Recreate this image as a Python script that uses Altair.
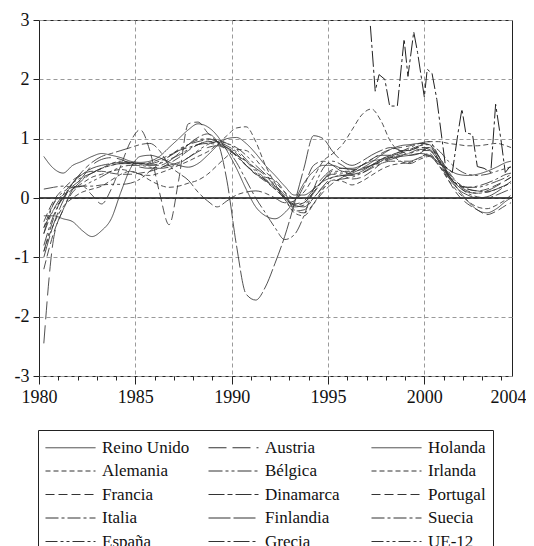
import altair as alt
import pandas as pd

years = [1980.25, 1980.75, 1981.25, 1981.75, 1982.25, 1982.75, 1983.25, 1983.75, 1984.25, 1984.75,
         1985.25, 1985.75, 1986.25, 1986.75, 1987.25, 1987.75, 1988.25, 1988.75, 1989.25, 1989.75,
         1990.25, 1990.75, 1991.25, 1991.75, 1992.25, 1992.75, 1993.25, 1993.75, 1994.25, 1994.75,
         1995.25, 1995.75, 1996.25, 1996.75, 1997.25, 1997.75, 1998.25, 1998.75, 1999.25, 1999.75,
         2000.25, 2000.75, 2001.25, 2001.75, 2002.25, 2002.75, 2003.25, 2003.75, 2004.25, 2004.5]

reino_unido = [0.70, 0.50, 0.42, 0.55, 0.62, 0.70, 0.75, 0.72, 0.68, 0.62,
               0.60, 0.62, 0.70, 0.85, 1.00, 1.15, 1.25, 1.20, 1.05, 0.80,
               0.50, 0.15, -0.15, -0.30, -0.35, -0.25, -0.05, 0.25, 0.45, 0.55,
               0.55, 0.50, 0.50, 0.55, 0.62, 0.65, 0.68, 0.70, 0.72, 0.75,
               0.72, 0.60, 0.48, 0.40, 0.38, 0.40, 0.45, 0.52, 0.60, 0.62]
alemania = [-0.50, -0.10, 0.05, 0.15, 0.25, 0.35, 0.40, 0.45, 0.48, 0.45,
            0.40, 0.38, 0.42, 0.48, 0.55, 0.62, 0.70, 0.78, 0.90, 1.05,
            1.18, 1.20, 0.95, 0.55, 0.25, 0.00, -0.25, -0.30, -0.10, 0.15,
            0.30, 0.28, 0.22, 0.28, 0.38, 0.48, 0.55, 0.58, 0.60, 0.68,
            0.75, 0.55, 0.30, 0.10, -0.05, -0.15, -0.18, -0.12, -0.02, 0.05]
francia = [-0.40, -0.05, 0.15, 0.30, 0.40, 0.45, 0.45, 0.42, 0.40, 0.40,
           0.42, 0.45, 0.50, 0.58, 0.68, 0.80, 0.90, 0.95, 0.92, 0.85,
           0.72, 0.55, 0.40, 0.28, 0.15, 0.00, -0.12, -0.08, 0.10, 0.30,
           0.40, 0.38, 0.32, 0.35, 0.45, 0.58, 0.68, 0.75, 0.80, 0.85,
           0.85, 0.70, 0.45, 0.25, 0.15, 0.12, 0.15, 0.22, 0.30, 0.35]
italia = [-0.90, -0.35, 0.05, 0.25, 0.35, 0.42, 0.50, 0.58, 0.62, 0.60,
          0.58, 0.58, 0.62, 0.70, 0.80, 0.90, 0.98, 1.00, 0.95, 0.85,
          0.70, 0.55, 0.42, 0.30, 0.18, 0.02, -0.15, -0.12, 0.08, 0.30,
          0.45, 0.45, 0.40, 0.42, 0.50, 0.58, 0.62, 0.62, 0.62, 0.68,
          0.72, 0.58, 0.38, 0.20, 0.08, 0.02, 0.00, 0.05, 0.12, 0.15]
espana = [-0.60, -0.10, 0.10, 0.18, 0.20, 0.20, 0.22, 0.23, 0.23, 0.25,
          0.32, 0.45, 0.58, 0.70, 0.82, 0.90, 0.95, 0.98, 0.98, 0.92,
          0.82, 0.65, 0.48, 0.32, 0.18, -0.02, -0.22, -0.20, 0.00, 0.18,
          0.30, 0.32, 0.35, 0.42, 0.52, 0.62, 0.70, 0.76, 0.82, 0.88,
          0.90, 0.80, 0.62, 0.48, 0.40, 0.38, 0.40, 0.45, 0.50, 0.52]
austria = [-2.45, -0.70, -0.20, 0.15, 0.35, 0.55, 0.65, 0.68, 0.65, 0.58,
           0.52, 0.50, 0.52, 0.55, 0.60, 0.68, 0.78, 0.85, 0.88, 0.82,
           0.72, 0.62, 0.50, 0.38, 0.20, 0.02, -0.10, -0.05, 0.15, 0.35,
           0.48, 0.50, 0.48, 0.50, 0.55, 0.60, 0.65, 0.70, 0.76, 0.82,
           0.80, 0.62, 0.38, 0.20, 0.10, 0.08, 0.12, 0.20, 0.30, 0.35]
belgica = [0.15, 0.18, 0.20, 0.18, 0.20, 0.28, 0.36, 0.45, 0.52, 0.55,
           0.55, 0.52, 0.50, 0.52, 0.58, 0.68, 0.80, 0.90, 0.95, 0.92,
           0.85, 0.72, 0.55, 0.40, 0.22, 0.05, -0.12, -0.15, 0.00, 0.20,
           0.35, 0.38, 0.38, 0.45, 0.55, 0.65, 0.72, 0.78, 0.82, 0.85,
           0.82, 0.65, 0.42, 0.25, 0.18, 0.18, 0.22, 0.28, 0.35, 0.40]
dinamarca = [-0.50, -0.20, 0.00, 0.25, 0.45, 0.60, 0.70, 0.75, 0.80, 0.85,
             0.90, 0.92, 0.80, 0.55, 0.42, 0.30, 0.10, -0.05, -0.15, -0.05,
             0.05, 0.10, 0.12, 0.08, 0.00, -0.08, -0.05, 0.20, 0.55, 0.62,
             0.55, 0.45, 0.45, 0.55, 0.65, 0.72, 0.72, 0.62, 0.58, 0.65,
             0.70, 0.55, 0.35, 0.22, 0.15, 0.12, 0.10, 0.15, 0.22, 0.25]
finlandia = [-1.00, -0.45, -0.05, 0.25, 0.40, 0.50, 0.55, 0.58, 0.60, 0.60,
             0.58, 0.56, 0.55, 0.62, 0.75, 0.90, 1.02, 1.08, 0.95, 0.30,
             -0.80, -1.62, -1.72, -1.50, -1.10, -0.65, -0.10, 0.50, 1.05, 1.00,
             0.78, 0.62, 0.55, 0.62, 0.72, 0.80, 0.85, 0.80, 0.72, 0.75,
             0.85, 0.65, 0.35, 0.15, 0.05, 0.00, 0.02, 0.10, 0.22, 0.28]
holanda = [-0.30, -0.30, -0.35, -0.40, -0.55, -0.65, -0.55, -0.35, 0.10, 0.50,
           0.70, 0.72, 0.68, 0.60, 0.55, 0.52, 0.58, 0.72, 0.88, 1.00,
           1.02, 0.92, 0.75, 0.55, 0.38, 0.20, 0.05, 0.05, 0.15, 0.28,
           0.35, 0.38, 0.42, 0.50, 0.60, 0.72, 0.82, 0.88, 0.90, 0.92,
           0.90, 0.70, 0.40, 0.15, -0.05, -0.20, -0.25, -0.18, -0.05, 0.00]
irlanda = [-0.90, -0.45, -0.15, 0.00, 0.10, 0.15, 0.20, 0.30, 0.40, 0.45,
           0.40, 0.30, 0.22, 0.18, 0.20, 0.25, 0.30, 0.40, 0.55, 0.70,
           0.82, 0.80, 0.65, 0.45, 0.28, 0.10, 0.00, 0.10, 0.35, 0.62,
           0.75, 0.90, 1.15, 1.40, 1.50, 1.30, 0.95, 0.80, 0.80, 0.88,
           0.95, 0.95, 0.92, 0.90, 0.88, 0.88, 0.90, 0.92, 0.88, 0.85]
portugal = [-1.20, -0.60, -0.20, 0.10, 0.20, 0.05, -0.10, 0.15, 0.55, 0.95,
            1.15, 0.80, 0.10, -0.45, 0.30, 1.25, 1.28, 1.10, 0.95, 0.85,
            0.75, 0.55, 0.40, 0.35, 0.30, 0.10, -0.20, -0.25, -0.10, 0.10,
            0.25, 0.35, 0.45, 0.55, 0.65, 0.75, 0.82, 0.85, 0.88, 0.92,
            0.90, 0.62, 0.30, 0.05, -0.10, -0.20, -0.28, -0.22, -0.12, -0.08]
suecia = [-0.80, -0.30, 0.00, 0.15, 0.30, 0.42, 0.50, 0.55, 0.58, 0.58,
          0.58, 0.60, 0.65, 0.72, 0.80, 0.85, 0.90, 0.92, 0.90, 0.82,
          0.60, 0.30, 0.00, -0.25, -0.50, -0.70, -0.62, -0.30, 0.15, 0.50,
          0.62, 0.55, 0.45, 0.48, 0.55, 0.65, 0.72, 0.78, 0.85, 0.92,
          0.95, 0.70, 0.38, 0.22, 0.18, 0.20, 0.25, 0.32, 0.40, 0.42]
ue12 = [-0.60, -0.20, 0.05, 0.20, 0.32, 0.42, 0.50, 0.55, 0.58, 0.58,
        0.56, 0.55, 0.58, 0.65, 0.72, 0.82, 0.90, 0.95, 0.95, 0.88,
        0.78, 0.62, 0.45, 0.30, 0.15, 0.00, -0.12, -0.08, 0.10, 0.30,
        0.42, 0.42, 0.40, 0.45, 0.55, 0.62, 0.68, 0.72, 0.75, 0.80,
        0.80, 0.62, 0.40, 0.22, 0.12, 0.08, 0.10, 0.15, 0.22, 0.25]

grecia_years = [1997.2, 1997.45, 1997.65, 1997.95, 1998.2, 1998.6, 1998.95, 1999.15, 1999.45, 1999.65,
                2000.0, 2000.15, 2000.4, 2000.65, 2001.1, 2001.45, 2001.75, 2001.95, 2002.15, 2002.5,
                2002.75, 2003.1, 2003.45, 2003.7, 2004.0, 2004.2, 2004.5]
grecia = [2.9, 1.8, 2.08, 2.0, 1.55, 1.55, 2.68, 2.05, 2.8, 2.45,
          1.7, 2.17, 2.1, 1.66, 0.53, 0.43, 1.1, 1.5, 1.1, 1.07,
          0.53, 0.5, 0.43, 1.58, 0.93, 0.43, 0.55]

# legend order (filled column by column, 3 columns x 5 rows)
paises = ["Reino Unido", "Alemania", "Francia", "Italia", "España",
          "Austria", "Bélgica", "Dinamarca", "Finlandia", "Grecia",
          "Holanda", "Irlanda", "Portugal", "Suecia", "UE-12"]

dash_styles = {
    "Reino Unido": [1, 0],
    "Austria": [18, 6],
    "Holanda": [1, 0],
    "Alemania": [5, 3],
    "Bélgica": [14, 3, 3, 3, 3, 3],
    "Irlanda": [5, 3],
    "Francia": [9, 4],
    "Dinamarca": [16, 3, 5, 3],
    "Portugal": [9, 4],
    "Italia": [13, 3, 3, 3],
    "Finlandia": [22, 3],
    "Suecia": [13, 3, 3, 3],
    "España": [12, 3, 3, 3, 3, 3],
    "Grecia": [16, 3, 3, 3],
    "UE-12": [12, 3, 3, 3, 3, 3],
}

smooth = {
    "Reino Unido": reino_unido, "Alemania": alemania, "Francia": francia,
    "Italia": italia, "España": espana, "Austria": austria, "Bélgica": belgica,
    "Dinamarca": dinamarca, "Finlandia": finlandia, "Holanda": holanda,
    "Irlanda": irlanda, "Portugal": portugal, "Suecia": suecia, "UE-12": ue12,
}

rows = []
for name, vals in smooth.items():
    for yr, v in zip(years, vals):
        rows.append({"pais": name, "anio": yr, "valor": v})
df = pd.DataFrame(rows)
dfg = pd.DataFrame({"pais": ["Grecia"] * len(grecia_years), "anio": grecia_years, "valor": grecia})

FONT = "Liberation Serif"
x_ticks = [1980, 1981, 1982, 1983, 1984, 1985, 1986, 1987, 1988, 1989, 1990, 1991, 1992,
           1993, 1994, 1995, 1996, 1997, 1998, 1999, 2000, 2001, 2002, 2003, 2004, 2004.55]
y_ticks = [-3, -2, -1, 0, 1, 2, 3]

x_axis = alt.Axis(
    values=x_ticks,
    labelExpr="datum.value % 5 == 0 ? '' + datum.value : (datum.value > 2004.3 ? '2004' : '')",
    labelOverlap=False, labelFlush=False, labelAlign="center",
    labelOffset={"condition": {"test": "datum.value > 2004.3", "value": -4}, "value": 0},
    tickSize={"condition": {"test": "datum.value % 5 == 0 || datum.value > 2004.3", "value": 8}, "value": 4},
    tickOpacity={"condition": {"test": "datum.value > 2004.3", "value": 0}, "value": 1},
    gridOpacity={"condition": {"test": "datum.value % 5 == 0 && datum.value > 1980", "value": 1}, "value": 0},
    gridDash=[4, 3], gridColor="#9a9a9a", gridWidth=1,
    tickColor="#222", labelColor="#111", labelFont=FONT, labelFontSize=18,
    labelPadding=4, domain=False, title=None,
)
y_axis = alt.Axis(
    values=y_ticks, labelExpr="'' + datum.value",
    tickSize=6, tickColor="#222", labelColor="#111", labelFont=FONT, labelFontSize=18,
    labelPadding=4, gridDash=[4, 3], gridColor="#9a9a9a", gridWidth=1,
    domain=False, title=None,
)

x_enc = alt.X("anio:Q", scale=alt.Scale(domain=[1980, 2004.55], nice=False, zero=False), axis=x_axis)
y_enc = alt.Y("valor:Q", scale=alt.Scale(domain=[-3, 3], nice=False, zero=False), axis=y_axis)

dash_scale = alt.Scale(domain=paises, range=[dash_styles[p] for p in paises])
legend = alt.Legend(
    title=None, orient="none", legendX=-1, legendY=410, columns=3, gridAlign="all",
    symbolType="M-1,0H4", symbolSize=400, symbolStrokeWidth=1, symbolStrokeColor="#333",
    labelFont=FONT, labelFontSize=17, labelColor="#111", labelOffset=36, labelLimit=300,
    columnPadding=16, rowPadding=4.5, padding=7, strokeColor="#222",
)

lines = alt.Chart(df).mark_line(interpolate="monotone", strokeWidth=0.85, color="#333").encode(
    x=x_enc, y=y_enc,
    strokeDash=alt.StrokeDash("pais:N", scale=dash_scale, legend=legend),
)
lines_gr = alt.Chart(dfg).mark_line(interpolate="linear", strokeWidth=1.0, color="#222").encode(
    x=x_enc, y=y_enc,
    strokeDash=alt.StrokeDash("pais:N", scale=dash_scale, legend=legend),
)
zero = alt.Chart(pd.DataFrame({"valor": [0]})).mark_rule(color="#111", strokeWidth=1.4).encode(
    y=alt.Y("valor:Q", scale=alt.Scale(domain=[-3, 3], nice=False, zero=False), axis=y_axis)
)

chart = alt.layer(zero, lines, lines_gr).properties(
    width=473, height=356,
    autosize=alt.AutoSizeParams(type="none"),
    padding={"left": 31, "top": 12, "right": 14, "bottom": 190},
    background="white",
).configure_view(stroke="#222", strokeWidth=1)

chart.save("out.html", embed_options={"renderer": "svg", "actions": False})
